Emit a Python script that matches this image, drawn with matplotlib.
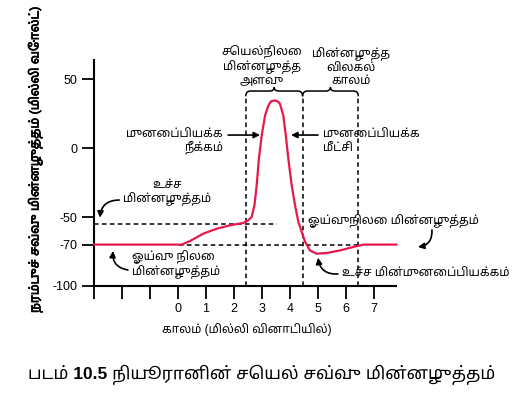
import numpy as np
import matplotlib
matplotlib.use('Agg')
import matplotlib.pyplot as plt
import matplotlib.patheffects as pe
from matplotlib.path import Path
from matplotlib.patches import PathPatch

plt.rcParams['font.family'] = ['Liberation Sans', 'Noto Sans Tamil']

# action potential trace (time in ms, voltage in mV)
time_ms = [-3.0, 0.13, 0.43, 0.9, 1.38, 1.86, 2.33, 2.51, 2.63, 2.73, 2.81, 2.89,
           2.99, 3.11, 3.23, 3.32, 3.44, 3.56, 3.64, 3.76, 3.85, 3.94, 4.06, 4.18,
           4.3, 4.42, 4.54, 4.71, 4.95, 5.31, 5.79, 6.26, 6.62, 7.8]
volt_mv = [-70, -70, -67.4, -62.1, -58.5, -56, -54.3, -52.4, -50, -41.5, -27, -7.7,
           9.2, 23.7, 30.9, 33.8, 34.5, 33.8, 32.1, 23.7, 9.2, -7.7, -27, -41.5,
           -53.6, -60.9, -68, -74.2, -76.6, -76.1, -74.2, -71.7, -70, -70]

threshold = -55
resting = -70
phase_edges = [2.42, 4.45, 6.44]

yticks = [50, 0, -50, -70, -100]
xticks = np.arange(-3, 8)
xticklabels = ['', '', '', '0', '1', '2', '3', '4', '5', '6', '7']

ylabel = 'நரம்புச் சவ்வு மின்னழுத்தம் (மில்லி வோல்ட்)'
xlabel = 'காலம் (மில்லி வினாடியில்)'
title = 'படம் 10.5 நியூரானின் செயல் சவ்வு மின்னழுத்தம்'

red = '#e8174c'

fig = plt.figure(figsize=(5.29, 3.97), dpi=100)
ax = fig.add_axes([94 / 529, 1 - 286 / 397, 302.4 / 529, 225.6 / 397])
ax.set_xlim(-3, 7.8)
ax.set_ylim(-100, 63.5)
for s in ['top', 'right']:
    ax.spines[s].set_visible(False)
for s in ['left', 'bottom']:
    ax.spines[s].set_linewidth(1.5)
ax.set_yticks(yticks)
ax.set_yticklabels([str(v) for v in yticks], fontsize=9)
ax.set_xticks(xticks)
ax.set_xticklabels(xticklabels, fontsize=9)
ax.tick_params(axis='both', length=9, width=1.3, direction='out', pad=3)

dash = (0, (3, 2.2))
ax.plot([-3, 3.55], [threshold, threshold], color='black', lw=1.1, ls=dash, clip_on=False)
ax.plot([0.05, 6.5], [resting, resting], color='black', lw=1.1, ls=dash, clip_on=False)
for xe in phase_edges:
    ax.plot([xe, xe], [-100, 37.5], color='black', lw=1.1, ls=dash, clip_on=False)

ax.plot(time_ms, volt_mv, color=red, lw=1.6, clip_on=False, zorder=5)

# curly braces over the two phases
def brace(x0, x1, y0, r=0.17):
    xm = (x0 + x1) / 2
    ym = y0 + 3.8
    yt = y0 + 6.5
    verts = [(x0, y0), (x0, ym), (x0 + r, ym), (xm - r, ym), (xm, ym), (xm, yt),
             (xm, ym), (xm + r, ym), (x1 - r, ym), (x1, ym), (x1, y0)]
    codes = [Path.MOVETO, Path.CURVE3, Path.CURVE3, Path.LINETO, Path.CURVE3, Path.CURVE3,
             Path.CURVE3, Path.CURVE3, Path.LINETO, Path.CURVE3, Path.CURVE3]
    ax.add_patch(PathPatch(Path(verts, codes), fill=False, lw=1.1, color='black', clip_on=False))

brace(phase_edges[0], phase_edges[1], 37.5)
brace(phase_edges[1], phase_edges[2], 37.5)

fs = 8.5
ax.text(3.0, 44.5, 'செயல்நிலை\nமின்னழுத்த\nஅளவு', ha='center', va='bottom',
        fontsize=fs, linespacing=1.1, clip_on=False)
ax.text(6.18, 44.5, 'மின்னழுத்த\nவிலகல்\nகாலம்', ha='center', va='bottom',
        fontsize=fs, linespacing=1.1, clip_on=False)

arrow = dict(arrowstyle='-|>', color='black', lw=1.2, mutation_scale=9, shrinkA=0, shrinkB=0)

ax.text(1.61, 4.5, 'முனைப்பியக்க\nநீக்கம்', ha='right', va='center', multialignment='right',
        fontsize=fs, linespacing=1.1)
ax.annotate('', xy=(2.93, 9.4), xytext=(1.79, 9.4), arrowprops=arrow)

ax.text(5.18, 4.5, 'முனைப்பியக்க\nமீட்சி', ha='left', va='center', multialignment='left',
        fontsize=fs, linespacing=1.1)
ax.annotate('', xy=(4.04, 9.4), xytext=(5.0, 9.4), arrowprops=arrow)

ax.text(-0.39, -32, 'உச்ச\nமின்னழுத்தம்', ha='center', va='center', multialignment='center',
        fontsize=fs, linespacing=1.1)
ax.annotate('', xy=(-2.79, -50.5), xytext=(-2.1, -37.7),
            arrowprops=dict(arrow, connectionstyle='arc3,rad=0.45'))

ax.text(-1.64, -84.5, 'ஓய்வு நிலை\nமின்னழுத்தம்', ha='left', va='center', multialignment='left',
        fontsize=fs, linespacing=1.1)
ax.annotate('', xy=(-2.32, -74.6), xytext=(-1.79, -88.4),
            arrowprops=dict(arrow, connectionstyle='arc3,rad=-0.45'))

ax.text(4.64, -52.9, 'ஓய்வுநிலை மின்னழுத்தம்', ha='left', va='center', fontsize=fs,
        clip_on=False)
ax.annotate('', xy=(8.57, -71.7), xytext=(9.07, -59.4),
            arrowprops=dict(arrow, connectionstyle='arc3,rad=-0.45'), annotation_clip=False)

ax.text(5.86, -91.3, 'உச்ச மின்முனைப்பியக்கம்', ha='left', va='center', fontsize=fs,
        clip_on=False)
ax.annotate('', xy=(5.0, -79.5), xytext=(5.71, -91.3),
            arrowprops=dict(arrow, connectionstyle='arc3,rad=-0.45'))

# only a regular weight of Noto Sans Tamil is available, so thicken the label with a stroke
fig.text(35 / 529, 1 - 160 / 397, ylabel, rotation=90, ha='center', va='center',
         fontsize=9, path_effects=[pe.Stroke(linewidth=0.5, foreground='black'), pe.Normal()])
fig.text(247 / 529, 1 - 330 / 397, xlabel, ha='center', va='center', fontsize=fs)
fig.text(28 / 529, 1 - 375 / 397, title, ha='left', va='center', fontsize=12.5,
         fontweight='bold')

fig.savefig('out.png', dpi=100)
